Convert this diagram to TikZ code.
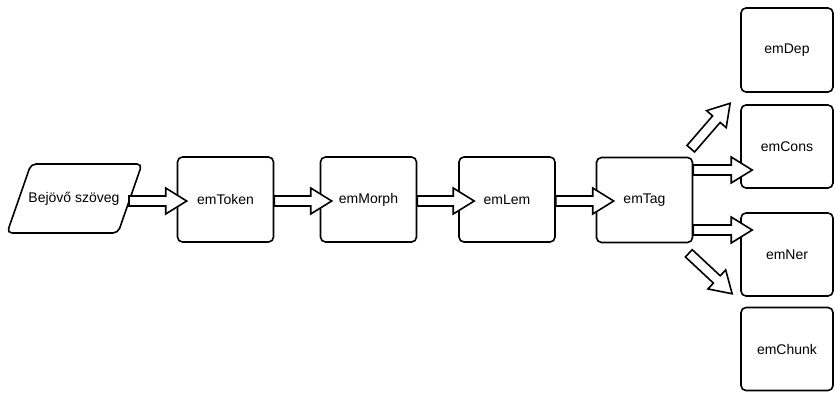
\documentclass[tikz,border=0pt]{standalone}
\usepackage{fontspec}
\setmainfont{Liberation Sans}
\usetikzlibrary{calc}
\tikzset{
  box/.style={draw, line width=1.6pt, rounded corners=5pt, minimum width=96pt, minimum height=85pt, inner sep=0pt, font=\fontsize{14pt}{16pt}\selectfont},
  label text/.style={inner sep=0pt, font=\fontsize{14pt}{16pt}\selectfont},
  outline/.style={draw, line width=1.6pt, rounded corners=5pt},
  blockarrow/.style={draw, line width=1.6pt, fill=white, line join=miter},
}
\newcommand\blockarr[2]{%
  \draw[blockarrow] let \p1=($(#2)-(#1)$), \n1={atan2(\y1,\x1)}, \n2={veclen(\x1,\y1)} in
    [shift={(#1)}, rotate=\n1]
    (0,-5) -- ({\n2-21},-5) -- ({\n2-21},-13) -- ({\n2},0) -- ({\n2-21},13) -- ({\n2-21},5) -- (0,5) -- cycle;}
\begin{document}
\begin{tikzpicture}[x=1pt,y=-1pt]
\useasboundingbox (0,0) rectangle (835,392);
% input parallelogram
\coordinate (pbl) at (7,233);
\coordinate (pbr) at (118,233);
\coordinate (ptr) at (142,164);
\coordinate (ptl) at (31,164);
\draw[outline] (pbl) -- (pbr) -- (ptr) -- (ptl) -- cycle;
\node[label text] (inp) at (74,199) {Bejövő szöveg};
\node[box] (tok) at (225.5,199.5) {emToken};
\node[box] (mor) at (368.5,199.5) {emMorph};
\node[box] (lem) at (507,199.5) {emLem};
\node[box] (tag) at (644.5,200) {emTag};
\node[box, minimum width=92pt, minimum height=84pt] (dep) at (787,50) {emDep};
\node[box, minimum width=92pt, minimum height=83pt] (con) at (787,146.5) {emCons};
\node[box, minimum width=92pt, minimum height=83pt] (ner) at (787,254.5) {emNer};
\node[box, minimum width=92pt, minimum height=83pt] (chu) at (787,349) {emChunk};
% connector end points
\coordinate (a0) at (129,201);
\coordinate (b0) at ($(tok.west)+(10,1.5)$);
\coordinate (a1) at ($(tok.east)+(0,1.5)$);
\coordinate (b1) at ($(mor.west)+(12,1.5)$);
\coordinate (a2) at ($(mor.east)+(0,1.5)$);
\coordinate (b2) at ($(lem.west)+(16,1.5)$);
\coordinate (a3) at ($(lem.east)+(0,1.5)$);
\coordinate (b3) at ($(tag.west)+(18,1)$);
\coordinate (a4) at ($(tag.north east)+(-2.5,-8)$);
\coordinate (b4) at ($(con.north west)+(-10,-1)$);
\coordinate (a5) at ($(tag.east)+(0,-30)$);
\coordinate (b5) at ($(con.west)+(12,23.5)$);
\coordinate (a6) at ($(tag.east)+(0,30)$);
\coordinate (b6) at ($(ner.west)+(12,-24.5)$);
\coordinate (a7) at ($(tag.south east)+(-4.5,10)$);
\coordinate (b7) at ($(ner.south west)+(-8,-3)$);
\blockarr{a0}{b0}
\blockarr{a1}{b1}
\blockarr{a2}{b2}
\blockarr{a3}{b3}
\blockarr{a4}{b4}
\blockarr{a5}{b5}
\blockarr{a6}{b6}
\blockarr{a7}{b7}
\end{tikzpicture}
\end{document}
